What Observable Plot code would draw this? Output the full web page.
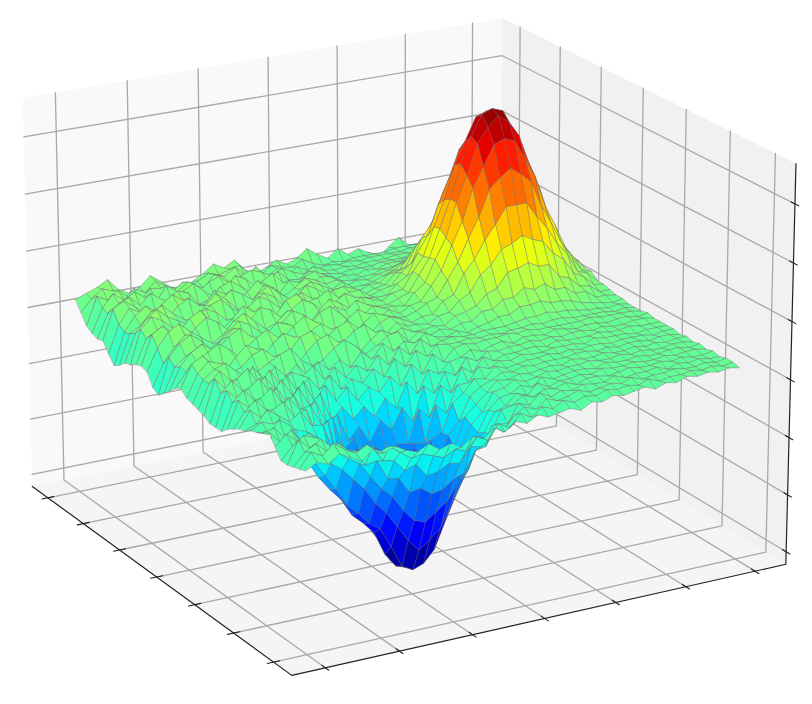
<!DOCTYPE html>
<html><head><meta charset="utf-8">
<script src="https://cdn.jsdelivr.net/npm/d3@7"></script>
<script src="https://cdn.jsdelivr.net/npm/@observablehq/plot@0.6"></script>
<style>html,body{margin:0;padding:0;background:#fff}svg{display:block;filter:blur(0.7px)}</style>
</head><body><div id="chart"></div>
<script>
// surface heights: rows run back from the front-right edge
const zRows = [
[-10,-7,-9,-5,-8,-11,-6,-9,-7,-10,-12,-9,-13,-11,-14,-10,-12,-8,-11,-7,-9,-6,-8,-7,-6,-8,-5,-6,-4,-5,-4,-3,-5,-3,-4,-2,-3,-2,-3,-2,-3],
[-11,-4,-7,-2,-6,-9,-6,-11,-9,-13,-17,-16,-18,-20,-17,-19,-13,-16,-9,-12,-6,-9,-5,-7,-4,-6,-4,-5,-3,-4,-3,-4,-2,-4,-3,-3,-2,-3,-2,-3,-2],
[-12,-6,-3,-8,-5,-10,-11,-10,-18,-19,-25,-23,-30,-29,-26,-27,-20,-21,-12,-16,-9,-6,-8,-4,-6,-5,-3,-5,-4,-3,-4,-2,-4,-3,-3,-2,-3,-3,-2,-3,-2],
[-13,-2,-7,-4,-9,-11,-13,-21,-20,-30,-31,-39,-38,-42,-41,-37,-35,-25,-24,-14,-15,-6,-8,-3,-6,-4,-5,-3,-4,-4,-2,-4,-3,-3,-2,-4,-2,-3,-2,-3,-3],
[-13,-7,-3,-5,-11,-14,-19,-22,-30,-37,-42,-50,-56,-58,-54,-50,-42,-36,-23,-21,-10,-9,-5,-7,-4,-5,-3,-5,-3,-3,-4,-3,-2,-3,-3,-2,-3,-2,-3,-3,-2],
[-8,-3,-8,-5,-14,-22,-26,-32,-38,-46,-52,-60,-68,-74,-70,-65,-54,-44,-29,-22,-13,-11,-6,-8,-3,-6,-4,-4,-3,-4,-2,-3,-3,-2,-3,-3,-2,-3,-2,-2,-3],
[-3,-9,-4,-12,-22,-30,-38,-47,-52,-58,-62,-72,-83,-86,-84,-78,-65,-53,-30,-24,-14,-9,-8,-5,-7,-3,-5,-4,-3,-3,-4,-2,-3,-3,-2,-3,-3,-2,-2,-3,-2],
[-5,-4,-10,-10,-24,-33,-40,-46,-55,-60,-66,-78,-85,-87,-86,-80,-70,-58,-32,-22,-17,-8,-7,-4,-6,-5,-3,-4,-3,-3,-2,-3,-3,-2,-3,-2,-3,-3,-2,-2,-3],
[-7,-9,-3,-7,-18,-26,-32,-38,-48,-54,-65,-73,-84,-86,-82,-76,-62,-50,-34,-20,-15,-10,-5,-6,-4,-5,-4,-3,-4,-2,-3,-3,-2,-3,-3,-2,-3,-2,-3,-2,-2],
[-8,-5,-7,-11,-12,-14,-18,-26,-36,-48,-58,-66,-76,-80,-72,-68,-52,-46,-30,-24,-13,-9,-7,-4,-5,-3,-4,-3,-3,-3,-2,-2,-3,-2,-3,-2,-2,-3,-2,-2,-3],
[-10,-8,-2,-6,-10,-6,-14,-15,-29,-33,-50,-47,-63,-57,-62,-50,-47,-33,-31,-17,-13,-7,-8,-3,-5,-4,-3,-3,-2,-3,-2,-3,-2,-2,-3,-2,-2,-2,-3,-2,-2],
[-11,-3,-8,-5,-2,-11,-8,-21,-16,-37,-33,-49,-44,-53,-45,-51,-36,-37,-19,-24,-11,-11,-4,-6,-3,-4,-2,-3,-3,-2,-2,-2,-3,-1,-2,-2,-2,-3,-2,-2,-2],
[-13,-6,-1,-7,-9,-3,-10,-9,-20,-17,-34,-30,-45,-36,-44,-37,-38,-22,-27,-12,-17,-5,-9,-2,-5,-3,-3,-2,-2,-3,-1,-2,-2,-2,-1,-2,-2,-1,-2,-2,-2],
[-15,-2,-7,-3,1,-8,-5,-15,-10,-22,-19,-33,-27,-36,-26,-32,-22,-30,-13,-18,-8,-11,-3,-6,-2,-3,-2,-2,-1,-2,-1,-2,-1,-1,-2,-1,-2,-2,-1,-1,-2],
[-18,-5,0,-6,-8,-2,-11,-4,-14,-9,-24,-18,-25,-20,-26,-18,-24,-12,-19,-8,-11,-6,-5,-2,-4,-2,-1,-3,-1,-1,-2,0,-1,-2,-1,-1,-2,-1,-1,-2,-1],
[-18,-1,-6,-2,2,-7,-1,-10,-4,-15,-8,-17,-11,-19,-13,-17,-10,-16,-6,-12,-3,-8,-2,-1,-2,-1,-1,0,-1,0,-1,-1,-1,-1,-1,0,-1,-1,-1,-1,-2],
[-18,-4,1,-5,-7,0,-8,-2,-11,-5,-12,-6,-14,-10,-13,-7,-12,-4,-9,-2,-6,-1,-2,-2,-1,-2,-1,-2,-1,-1,0,-1,0,0,-1,-1,-1,-1,-2,-1,-2],
[-16,1,-5,-1,3,-6,0,-9,-3,-6,-2,-10,-5,-11,-6,-10,-3,-9,-1,-6,1,-4,-2,-1,-2,-2,-1,-1,-1,0,1,1,2,1,1,0,-1,-1,-2,-1,-2],
[-15,-3,2,-4,-6,1,-7,-1,-7,-2,-9,-3,-8,-4,-9,-2,-7,0,-5,-1,-3,1,-2,-3,-1,-3,-1,0,2,2,5,5,6,4,4,3,1,0,-1,-2,-1],
[-14,-3,1,3,-2,-6,-4,-1,2,4,-3,-7,-5,0,3,-1,-6,-3,1,2,-4,0,-3,-1,-2,0,0,4,4,8,8,12,10,12,8,8,4,4,0,0,-1],
[-13,-2,3,1,-5,-3,2,4,-1,-6,-8,-2,3,5,0,-5,-7,-2,2,-1,1,-2,-2,-1,-2,2,3,5,10,12,19,20,22,19,19,12,10,5,4,0,0],
[-10,1,4,-2,-6,0,5,2,-4,-7,-2,4,6,1,-4,-3,2,4,-1,-3,2,-1,-1,-2,1,2,7,10,18,22,29,31,34,31,29,22,18,10,7,2,1],
[-12,-5,-1,3,6,2,-3,-7,-5,1,5,2,-3,-6,-1,3,5,0,-4,1,3,1,-2,0,0,6,8,18,24,33,40,48,48,48,40,33,24,18,8,6,1],
[-15,-4,2,5,1,-5,-6,-1,3,6,1,-4,-5,1,4,0,-3,-5,0,4,2,0,-1,1,4,6,14,22,33,43,56,61,65,61,56,43,33,22,14,6,4],
[-18,-6,-2,1,-3,-1,4,7,2,-4,-6,-2,3,7,3,-2,-5,1,5,2,-1,2,-1,2,3,10,17,29,40,56,66,76,78,76,66,56,40,29,17,10,4],
[-21,-3,3,6,2,-4,1,5,-1,-6,-1,4,2,-3,-1,5,7,2,-3,-1,3,1,1,0,6,10,21,31,48,61,76,83,88,84,76,61,48,31,21,10,6],
[-19,-8,-1,4,-2,-6,-3,2,6,3,-2,-5,1,6,3,-2,0,4,1,5,2,0,0,2,4,12,20,34,48,65,78,88,90,88,78,65,48,34,20,12,6],
[-13,-2,5,8,3,-1,-5,-2,4,7,2,-3,-1,4,-2,-5,1,6,3,-1,4,2,0,3,4,12,19,33,46,63,74,85,87,85,74,63,46,33,19,12,4],
[-12,3,6,1,-4,2,6,3,-2,-5,0,6,4,-1,2,6,3,-2,1,5,2,1,0,0,5,8,19,27,42,54,68,74,80,73,68,54,42,27,19,8,5],
[-13,-1,2,-3,-1,5,8,1,-4,1,6,2,-3,-2,5,7,2,3,6,1,3,3,-1,1,2,8,12,24,31,45,54,63,63,63,54,45,31,24,12,8,2],
[-15,2,7,4,-1,-4,2,6,3,-2,-4,3,7,4,-1,1,5,1,-2,3,4,2,-2,0,1,6,8,18,24,33,40,48,49,48,40,33,24,18,8,5,1],
[-16,-2,4,8,3,0,-3,1,5,7,1,-2,2,6,3,-3,0,6,3,-1,1,0,-2,0,0,4,5,12,16,24,27,33,32,33,27,24,16,12,5,4,0],
[-19,-4,-1,5,7,2,-2,-4,3,8,4,-2,-3,4,7,2,-2,2,5,2,-1,2,-2,-2,-1,1,3,6,9,14,18,20,22,20,18,14,9,6,3,1,0],
[-21,-5,2,6,2,-2,3,6,1,-3,2,6,3,-1,5,3,-2,1,5,3,0,1,-3,-1,-2,0,1,3,5,7,9,11,11,11,9,7,5,3,1,0,-1],
[-17,-3,4,1,-3,3,7,3,-2,-1,5,2,-3,1,6,2,-3,3,1,-2,2,1,-2,-3,-2,-2,0,0,2,3,4,6,5,5,4,3,2,0,0,-1,-1],
[-12,3,6,2,-2,-4,2,6,4,-3,-1,4,6,2,-2,3,6,0,-3,1,3,0,-3,-2,-3,-1,-2,0,0,1,1,2,1,2,1,1,0,0,-1,-1,-2],
[-13,-1,3,5,0,5,1,-2,3,6,1,-3,1,6,3,-2,1,4,-1,-2,1,-1,-2,-3,-2,-2,-2,-1,-1,-1,0,-1,0,-1,0,-1,-1,-1,-2,-2,-2],
[-12,0,6,2,5,1,-2,5,1,5,-1,3,5,0,3,5,3,0,3,0,-2,1,-2,-3,-2,-3,-2,-2,-2,-1,-1,-2,-1,-1,-1,-2,-2,-1,-2,-2,-2],
[-10,4,1,5,0,-3,3,2,-1,3,1,-2,4,2,6,0,4,-2,1,-3,0,-3,-3,-2,-3,-2,-3,-2,-2,-2,-2,-1,-2,-2,-2,-1,-2,-2,-1,-2,-1],
[-5,1,5,3,-2,2,-1,4,0,-2,-3,0,3,1,3,4,-2,-3,1,-1,-2,1,-2,-4,-3,-4,-3,-3,-3,-3,-2,-2,-2,-2,-2,-2,-2,-2,-2,-2,-2],
[0,2,4,7,1,-2,0,5,1,-3,-4,-2,1,5,2,5,-1,-4,-2,1,-2,0,4,0,-3,1,-3,-1,-4,-7,-3,1,-4,-4,-4,-4,-3,-3,-3,-3,-2]
];
const xTicks = [-3,-2,-1,0,1,2,3];
const yTicks = [-3,-2,-1,0,1,2,3];
const zTicks = [-93.6,-64.6,-35.6,-6.6,22.4,51.4,80.4];

// view
const elev = 20*Math.PI/180, phi = 60.4*Math.PI/180, dist = 10, focal = 5596, cx = 402, cy = 329.5;
const a = Math.cos(phi), b = Math.sin(phi), ce = Math.cos(elev), se = Math.sin(elev);
const U = x => x*0.145, W = z => z*0.00375, HZ = 0.375;
const depth = (u,v,w) => (u*a+v*b)*ce - w*se;
const proj = (u,v,w) => {
  const d = dist + depth(u,v,w);
  return {px: cx + focal*(u*b - v*a)/d, py: cy - focal*((u*a+v*b)*se + w*ce)/d};
};
const poly = (id, pts, extra={}) => pts.map(p => ({id, ...proj(...p), ...extra}));

// panes
const paneL = poly("l", [[-.5,.5,-HZ],[.5,.5,-HZ],[.5,.5,HZ],[-.5,.5,HZ]]);
const paneR = poly("r", [[.5,.5,-HZ],[.5,-.5,-HZ],[.5,-.5,HZ],[.5,.5,HZ]]);
const paneF = poly("f", [[-.5,-.5,-HZ],[.5,-.5,-HZ],[.5,.5,-HZ],[-.5,.5,-HZ]]);

// grid
const grid = [];
xTicks.forEach(t => grid.push(...poly("x"+t, [[U(t),-.5,-HZ],[U(t),.5,-HZ],[U(t),.5,HZ]])));
yTicks.forEach(t => grid.push(...poly("y"+t, [[-.5,U(t),-HZ],[.5,U(t),-HZ],[.5,U(t),HZ]])));
zTicks.forEach(t => grid.push(...poly("z"+t, [[-.5,.5,W(t)],[.5,.5,W(t)],[.5,-.5,W(t)]])));

// axis lines and tick marks
const tk = 0.012;
const axes = [
  ...poly("ax", [[-.5,.5,-HZ],[-.5,-.5,-HZ],[.5,-.5,-HZ],[.5,-.5,HZ]])
];
const ticks = [];
xTicks.forEach(t => ticks.push(...poly("tx"+t, [[U(t),-.5-tk,-HZ],[U(t),-.5+tk,-HZ]])));
yTicks.forEach(t => ticks.push(...poly("ty"+t, [[-.5-tk,U(t),-HZ],[-.5+tk,U(t),-HZ]])));
zTicks.forEach(t => ticks.push(...poly("tz"+t, [[.5,-.5-tk,W(t)],[.5,-.5+tk,W(t)]])));

// surface cells, far ones first
const n = zRows.length - 1;
const gx = i => U(-3 + i*6/n);
const cells = [];
for (let j = 0; j < n; j++) for (let i = 0; i < n; i++) {
  const c = [[i,j],[i+1,j],[i+1,j+1],[i,j+1]];
  const zs = c.map(([p,q]) => zRows[q][p]);
  const v = d3.mean(zs);
  cells.push({c, zs, v, d: depth(gx(i+.5), gx(j+.5), W(v)), id: i+"_"+j});
}
cells.sort((p,q) => q.d - p.d);
const surface = cells.flatMap(cell => cell.c.map(([p,q],k) => ({
  id: cell.id, v: cell.v, ...proj(gx(p), gx(q), W(cell.zs[k]))
})));

// jet
const jetF = [0,.11,.125,.34,.35,.375,.64,.65,.66,.89,.91,1];
const jetC = ["#00007f","#0000f1","#0000ff","#00dbff","#00e6f7","#14ffe2","#efff08","#f7f500","#ffec00","#ff1300","#e80000","#800000"];

const closed = {x:"px", y:"py", z:"id", curve:"linear-closed"};
const chart = Plot.plot({
  width: 812, height: 704, margin: 0,
  x: {domain:[0,812], range:[0,812], axis:null},
  y: {domain:[0,704], range:[0,704], axis:null},
  color: {type:"linear", domain: jetF.map(f => -85 + 176*f), range: jetC},
  marks: [
    Plot.line(paneF, {...closed, fill:"#f5f5f5", stroke:"none"}),
    Plot.line(paneL, {...closed, fill:"#f9f9f9", stroke:"none"}),
    Plot.line(paneR, {...closed, fill:"#f1f1f1", stroke:"none"}),
    Plot.line(grid, {x:"px", y:"py", z:"id", stroke:"#a8a8a8", strokeWidth:1.3}),
    Plot.line(axes, {x:"px", y:"py", z:"id", stroke:"#222", strokeWidth:1.2}),
    Plot.line(ticks, {x:"px", y:"py", z:"id", stroke:"#222", strokeWidth:1.1}),
    Plot.line(surface, {...closed, fill:"v", stroke:"#6f6f6f", strokeOpacity:0.6, strokeWidth:0.7, strokeLinejoin:"round"})
  ]
});
document.getElementById("chart").appendChild(chart);
</script></body></html>
